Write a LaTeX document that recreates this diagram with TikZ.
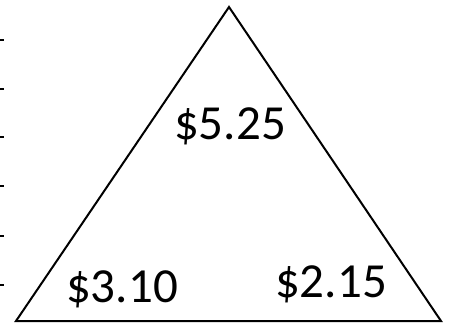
\documentclass[tikz,border=0pt]{standalone}
\usepackage{fontspec}
\setmainfont{Carlito}
\usepackage{tikz}
\usetikzlibrary{positioning}

\begin{document}
\begin{tikzpicture}[x=1pt, y=-1pt]
    \useasboundingbox (0,0) rectangle (449,325);

    % Ticks on the left edge
    \foreach \y in {40, 89, 137, 186, 236, 285}
        \draw[line width=1.5pt] (0,\y) -- (4,\y);

    % Triangle
    \coordinate (Top) at (229,7);
    \coordinate (Left) at (16,321);
    \coordinate (Right) at (441,321);
    \draw[line width=2pt, line join=miter] (Top) -- (Right) -- (Left) -- cycle;

    % Prices
    \node[font=\fontsize{49}{52}\selectfont] (top) at (230,126) {\$5.25};
    \node[font=\fontsize{49}{52}\selectfont] (left) at (122,289) {\$3.10};
    \node[font=\fontsize{49}{52}\selectfont] (right) at (331,284) {\$2.15};

\end{tikzpicture}
\end{document}
